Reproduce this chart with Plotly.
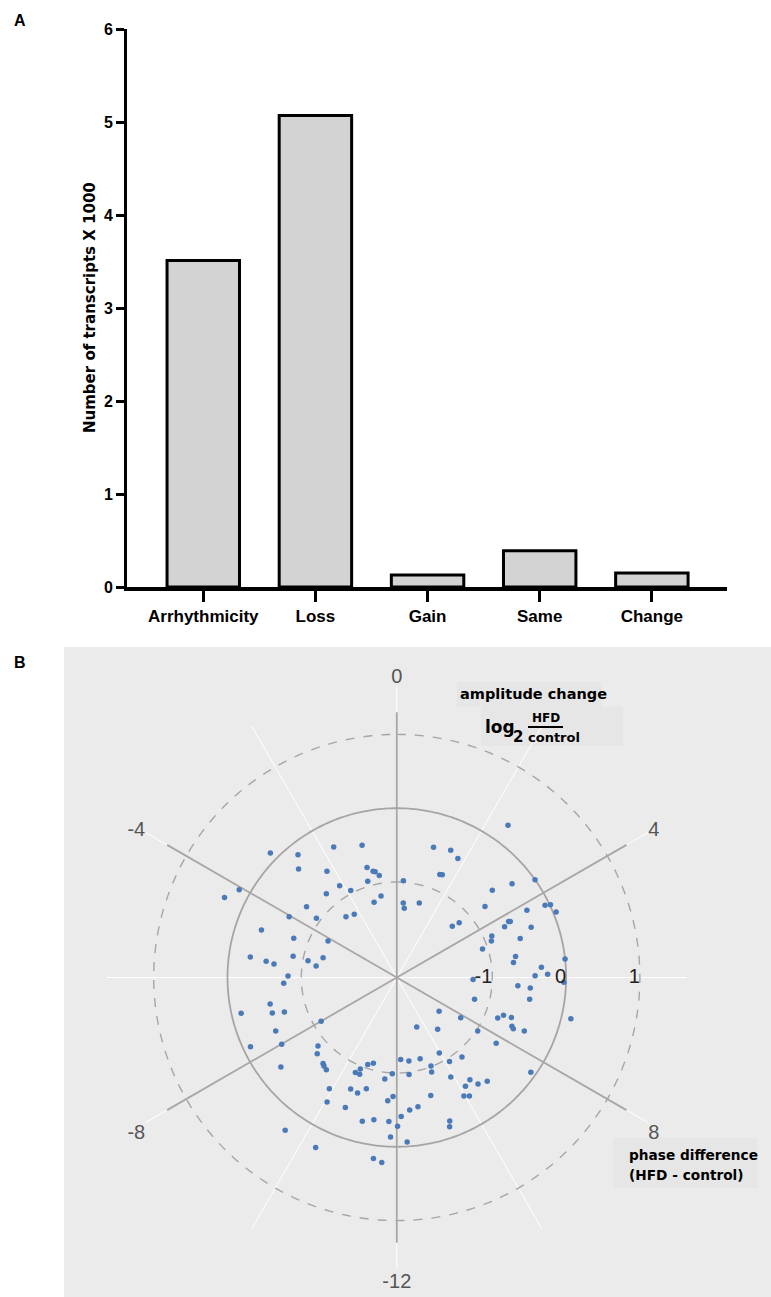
import numpy as np
import plotly.graph_objects as go

W, H = 771, 1297

# ---------------- Panel A data ----------------
categories = ["Arrhythmicity", "Loss", "Gain", "Same", "Change"]
transcripts_k = [3.51, 5.07, 0.13, 0.39, 0.15]
y_ticks = [0, 1, 2, 3, 4, 5, 6]

# ---------------- Panel B data ----------------
phase_hours = [
    -3.03, -2.59, -1.72, -0.98, -2.81, -2.22, -1.01, -0.84, -0.77, -0.65, -1.12, -2.13,
    -1.86, -2.67, -1.12, -0.73, -4.06, -4.34, -3.46, -4.04, -3.57, -2.66, -2.26, -4.71,
    -4.61, -4.14, -5.47, -5.53, -5.58, -5.23, -5.29, -5.00, -5.46, -5.95,
    2.41, 1.05, 1.53, 1.81, 1.51, 1.59, 0.26, 3.39, 3.65, 3.17, 0.33, 0.41,
    1.12, 3.41, 4.27, 4.31, 4.51, 4.18, 3.15, 3.25, 4.23, 4.25, 4.32, 4.63,
    4.43, 4.59, 4.83, 4.77, 5.33, 5.51, 5.58, 5.73, 5.95, 5.92, 6.10,
    6.26, 6.30, 6.11, 7.04, 6.62, 8.58, 8.15, 7.46, 7.30, 7.28, 6.89, 10.54,
    9.45, 8.23, 7.53, 7.58, 7.52, 8.23, 11.82, 11.45, 10.93, 10.04, 9.38, 9.86,
    10.59, 10.65, 11.52, 10.10, 8.35, 9.63, 9.85, 9.51, 9.26, 10.93, 10.03, 9.90,
    11.38, 11.63, 11.88, 11.98, 10.65, 10.70, 11.76,
    -6.19, -6.79, -6.86, -7.06, -7.14, -8.00, -7.59, -7.69, -8.01, -8.73, -8.92, -8.51,
    -9.29, -9.37, -9.51, -10.43, -10.60, -10.55, -10.77, -10.98, -11.82, -11.55, -9.92, -10.50,
    -10.75, -10.98, -10.05, -10.56, -11.72, -11.88, -11.10, -11.39, -11.79, -11.85, -9.59, -10.30,
    -11.51, -11.69,
]
amp_log2 = [
    0.11, -0.16, -0.33, -0.44, -0.31, -0.57, -0.75, -0.82, -0.83, -0.89, -0.93, -0.83,
    -0.96, -0.81, -1.23, -1.17, 0.15, 0.28, -0.74, -0.62, -0.94, -1.22, -1.26, -0.35,
    -0.80, -1.24, -0.29, -0.51, -0.62, -0.86, -1.07, -1.26, -1.19, -0.82,
    0.26, -0.46, -0.42, -0.48, -0.78, -0.77, -0.98, -0.28, 0.00, -0.54, -1.28, -1.35,
    -1.24, -0.76, -0.06, 0.01, 0.04, -0.31, -1.27, -1.17, -0.60, -0.58, -0.68, -0.35,
    -0.89, -0.92, -0.54, -1.07, -0.66, -0.70, 0.00, -0.33, -0.42, -0.25, -1.26,
    -0.65, -0.48, -0.03, -1.20, -0.47, -1.56, -1.27, -0.82, -0.76, -0.65, 0.13, -1.57,
    -1.40, -0.98, -0.60, -0.57, -0.42, -0.68, -1.18, -1.15, -1.15, -1.12, -0.90, -0.95,
    -1.01, -0.93, -0.97, -0.76, -0.07, -0.59, -0.55, -0.48, -0.43, -0.63, -0.45, -0.41,
    -0.52, -0.49, -0.41, -0.28, -0.22, -0.15, -0.06,
    -0.76, -0.54, -0.13, -0.54, -0.70, -1.11, -0.50, -0.10, -0.49, -0.88, -0.80, -0.31,
    -0.76, -0.74, -0.72, -0.89, -0.89, -0.96, -1.05, -1.09, -0.99, -0.91, -0.53, -0.66,
    -0.64, -0.73, -0.36, -0.40, -0.62, -0.68, -0.29, -0.34, -0.34, -0.13, 0.27, 0.26,
    0.18, 0.22,
]
angle_grid_hours = [0, 2, 4, 6, 8, 10, 12, 14, 16, 18, 20, 22]
angle_tick_text = ["0", "", "4", "", "8", "", "-12", "", "-8", "", "-4", ""]
spoke_hours = [0, 4, 8, 12, 16, 20]
spoke_end = 1.3
ring_levels = [-1, 0, 1]
ring_labels = ["-1", "0", "1"]
ring_dash = ["dash", "solid", "dash"]
r_center = -2.294          # radial value at the pole
px_per_unit = 73.8

# ---------------- helpers (layout positions in px -> paper) ----------------
def fx(px):
    return px / W

def fy(py):
    return 1 - py / H

SANS = "Liberation Sans, Arial, sans-serif"
VERD = "DejaVu Sans, Verdana, sans-serif"

fig = go.Figure()

# ---------------- Panel A ----------------
fig.add_trace(go.Bar(
    x=categories, y=transcripts_k, width=0.646,
    marker=dict(color="#d3d3d3", line=dict(color="black", width=3)),
    xaxis="x", yaxis="y", showlegend=False, hoverinfo="x+y",
))

# ---------------- Panel B ----------------
cx, cy, R = 396.8, 977.5, 290
r_max = r_center + R / px_per_unit

full_circle = np.linspace(0, 360, 361)
for lvl, dsh in zip(ring_levels, ring_dash):
    fig.add_trace(go.Scatterpolar(
        r=[lvl] * len(full_circle), theta=full_circle, mode="lines",
        line=dict(color="#a8a4a4" if dsh == "solid" else "#a6a6a6",
                  width=1.8 if dsh == "solid" else 1.4, dash=dsh),
        showlegend=False, hoverinfo="skip", subplot="polar",
    ))

sp_r, sp_t = [], []
for h in spoke_hours:
    sp_r += [r_center, spoke_end, None]
    sp_t += [h * 15, h * 15, None]
fig.add_trace(go.Scatterpolar(
    r=sp_r, theta=sp_t, mode="lines", connectgaps=False,
    line=dict(color="#aaa5a5", width=1.8),
    showlegend=False, hoverinfo="skip", subplot="polar",
))

fig.add_trace(go.Scatterpolar(
    r=amp_log2, theta=[h * 15 for h in phase_hours], mode="markers",
    marker=dict(color="#4a7ab8", size=5.5),
    showlegend=False, subplot="polar",
))

fig.add_trace(go.Scatterpolar(
    r=ring_levels, theta=[90] * len(ring_levels), mode="text",
    text=ring_labels, textposition="middle left",
    textfont=dict(family=SANS, size=20, color="#222222"),
    showlegend=False, hoverinfo="skip", subplot="polar",
))

shapes = [
    dict(type="rect", xref="paper", yref="paper", x0=fx(64), x1=1, y0=0, y1=fy(647),
         fillcolor="#ebebeb", line=dict(width=0), layer="below"),
    # label boxes
    dict(type="rect", xref="paper", yref="paper", x0=fx(457), x1=fx(602), y0=fy(707), y1=fy(682),
         fillcolor="#e6e6e6", line=dict(width=0), layer="below"),
    dict(type="rect", xref="paper", yref="paper", x0=fx(481), x1=fx(623), y0=fy(746), y1=fy(707),
         fillcolor="#e6e6e6", line=dict(width=0), layer="below"),
    dict(type="rect", xref="paper", yref="paper", x0=fx(613), x1=fx(757), y0=fy(1188), y1=fy(1138),
         fillcolor="#e6e6e6", line=dict(width=0), layer="below"),
    # fraction bar
    dict(type="line", xref="paper", yref="paper", x0=fx(528), x1=fx(563), y0=fy(727), y1=fy(727),
         line=dict(color="black", width=2)),
]


def ann(text, x, y, size, family=VERD, xanchor="center", angle=0, color="black"):
    return dict(text=text, x=fx(x), y=fy(y), xref="paper", yref="paper", showarrow=False,
                xanchor=xanchor, yanchor="middle", textangle=angle,
                font=dict(family=family, size=size, color=color))


annotations = [
    ann("<b>A</b>", 20, 20, 16, family=SANS),
    ann("<b>B</b>", 20, 662, 16, family=SANS),
    ann("<b>Number of transcripts X 1000</b>", 90, 308, 15, angle=-90),
    ann("<b>amplitude change</b>", 533, 694, 14.5),
    ann("<b>log</b>", 500, 727, 17),
    ann("<b>2</b>", 517.5, 737, 15),
    ann("<b>HFD</b>", 546, 718, 12),
    ann("<b>control</b>", 553.5, 737, 13),
    ann("<b>phase difference</b>", 627, 1155, 13.7, xanchor="left"),
    ann("<b>(HFD - control)</b>", 627, 1175, 13.7, xanchor="left"),
]

fig.update_layout(
    width=W, height=H, margin=dict(l=0, r=0, t=0, b=0, pad=0, autoexpand=False),
    paper_bgcolor="white", plot_bgcolor="white",
    xaxis=dict(domain=[fx(127), fx(727)], range=[-0.68, 4.67], type="category",
               showline=True, linecolor="black", linewidth=4,
               ticks="outside", ticklen=11, tickwidth=2.5, tickcolor="black",
               tickfont=dict(family=SANS, size=17, color="black", weight=700),
               showgrid=False, zeroline=False, anchor="y", automargin=False),
    yaxis=dict(domain=[fy(587), fy(29)], range=[0, 6], tickvals=y_ticks,
               showline=True, linecolor="black", linewidth=3,
               ticks="outside", ticklen=8, tickwidth=3, tickcolor="black",
               tickfont=dict(family=SANS, size=16, color="black", weight=700),
               showgrid=False, zeroline=False, anchor="x", automargin=False),
    polar=dict(
        domain=dict(x=[fx(cx - R), fx(cx + R)], y=[fy(cy + R), fy(cy - R)]),
        bgcolor="rgba(0,0,0,0)",
        angularaxis=dict(rotation=90, direction="clockwise", thetaunit="degrees",
                         tickmode="array", tickvals=[h * 15 for h in angle_grid_hours],
                         ticktext=angle_tick_text, ticks="", showline=False,
                         showgrid=True, gridcolor="white", gridwidth=1,
                         tickfont=dict(family=SANS, size=20, color="#555555")),
        radialaxis=dict(range=[r_center, r_max], showgrid=False, showline=False,
                        showticklabels=False, ticks=""),
    ),
    shapes=shapes, annotations=annotations,
)

fig.write_html(
    "out.html",
    config={"displayModeBar": False},
    post_script="document.body.style.margin='0';document.body.style.padding='0';"
                "document.documentElement.style.overflow='hidden';",
)
